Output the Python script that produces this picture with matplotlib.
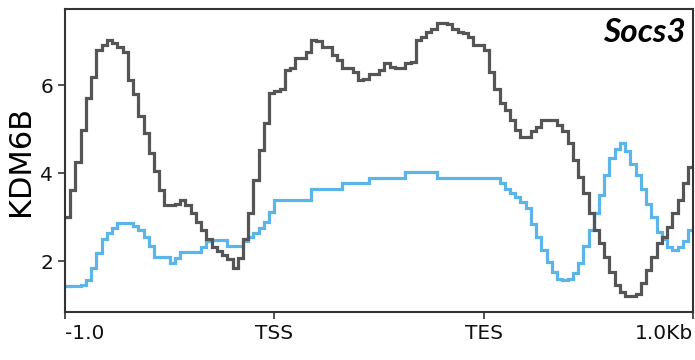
import numpy as np
import matplotlib
matplotlib.use("Agg")
import matplotlib.pyplot as plt

# Profile values per bin (120 bins: 40 upstream, 40 gene body, 40 downstream)
gray_vals = [
    3.0, 3.61, 4.25, 4.98, 5.70, 6.18, 6.8, 6.9, 7.02, 6.95,
    6.86, 6.75, 6.11, 5.8, 5.3, 4.9, 4.45, 4.05, 3.61, 3.27,
    3.27, 3.3, 3.39, 3.27, 3.09, 2.9, 2.7, 2.5, 2.32, 2.22,
    2.15, 2.05, 1.84, 2.07, 2.5, 3.09, 3.84, 4.52, 5.14, 5.82,
    5.86, 5.9, 6.34, 6.38, 6.61, 6.61, 6.75, 7.02, 7.0, 6.86,
    6.86, 6.68, 6.57, 6.39, 6.39, 6.3, 6.11, 6.14, 6.25, 6.25,
    6.35, 6.5, 6.4, 6.38, 6.38, 6.5, 6.52, 7.02, 7.1, 7.2,
    7.27, 7.41, 7.41, 7.39, 7.27, 7.2, 7.18, 7.09, 6.91, 6.91,
    6.80, 6.3, 5.9, 5.6, 5.43, 5.2, 4.98, 4.82, 4.82, 4.95,
    5.05, 5.2, 5.2, 5.2, 5.09, 4.95, 4.68, 4.3, 3.91, 3.55,
    3.09, 2.7, 2.41, 2.09, 1.75, 1.45, 1.3, 1.2, 1.2, 1.25,
    1.5, 1.8, 2.1, 2.41, 2.55, 2.77, 3.09, 3.39, 3.77, 4.14,
]
blue_vals = [
    1.43, 1.43, 1.43, 1.45, 1.57, 1.84, 2.18, 2.5, 2.65, 2.75,
    2.86, 2.86, 2.86, 2.8, 2.7, 2.55, 2.35, 2.1, 2.09, 2.09,
    1.95, 2.07, 2.2, 2.2, 2.2, 2.2, 2.32, 2.45, 2.48, 2.48,
    2.48, 2.34, 2.34, 2.34, 2.45, 2.55, 2.65, 2.75, 2.9, 3.11,
    3.39, 3.39, 3.39, 3.39, 3.39, 3.39, 3.39, 3.63, 3.63, 3.63,
    3.63, 3.63, 3.63, 3.77, 3.77, 3.77, 3.77, 3.77, 3.9, 3.9,
    3.9, 3.9, 3.9, 3.9, 3.9, 4.02, 4.02, 4.02, 4.02, 4.02,
    4.02, 3.9, 3.9, 3.9, 3.9, 3.9, 3.9, 3.9, 3.9, 3.9,
    3.9, 3.9, 3.9, 3.78, 3.65, 3.55, 3.45, 3.34, 3.2, 2.85,
    2.55, 2.25, 1.97, 1.75, 1.6, 1.57, 1.6, 1.72, 1.95, 2.35,
    2.7, 3.1, 3.5, 3.95, 4.35, 4.55, 4.68, 4.5, 4.2, 3.95,
    3.65, 3.3, 3.0, 2.67, 2.5, 2.32, 2.25, 2.32, 2.45, 2.7,
]
tick_labels = ["-1.0", "TSS", "TES", "1.0Kb"]
ylabel = "KDM6B"
gene = "Socs3"
yticks = [2, 4, 6]

n = len(gray_vals)
edges = np.arange(n + 1)

fig = plt.figure(figsize=(6.95, 3.6), dpi=100)
ax = fig.add_axes([0.0935, 0.134, 0.904, 0.84])

ax.stairs(blue_vals, edges, baseline=None, color="#5bb5e8", linewidth=2.3)
ax.stairs(gray_vals, edges, baseline=None, color="#555555", linewidth=2.3)

ax.set_xlim(0, n)
ax.set_ylim(0.85, 7.72)
ax.set_xticks(np.linspace(0, n, len(tick_labels)))
ax.set_xticklabels(tick_labels)
ax.set_yticks(yticks)
ax.tick_params(axis="both", labelsize=14.5, length=5, width=1.2, color="#333333", labelcolor="#111111")
xl = ax.get_xticklabels()
xl[0].set_ha("left")
xl[-1].set_ha("right")
for sp in ax.spines.values():
    sp.set_color("#333333")
    sp.set_linewidth(1.5)
ax.set_ylabel(ylabel, fontsize=22, labelpad=4)

ax.text(0.988, 0.97, gene, transform=ax.transAxes, ha="right", va="top",
        fontsize=24, fontweight="bold", fontstyle="italic", family="Lato")

fig.savefig("out.png", dpi=100)
